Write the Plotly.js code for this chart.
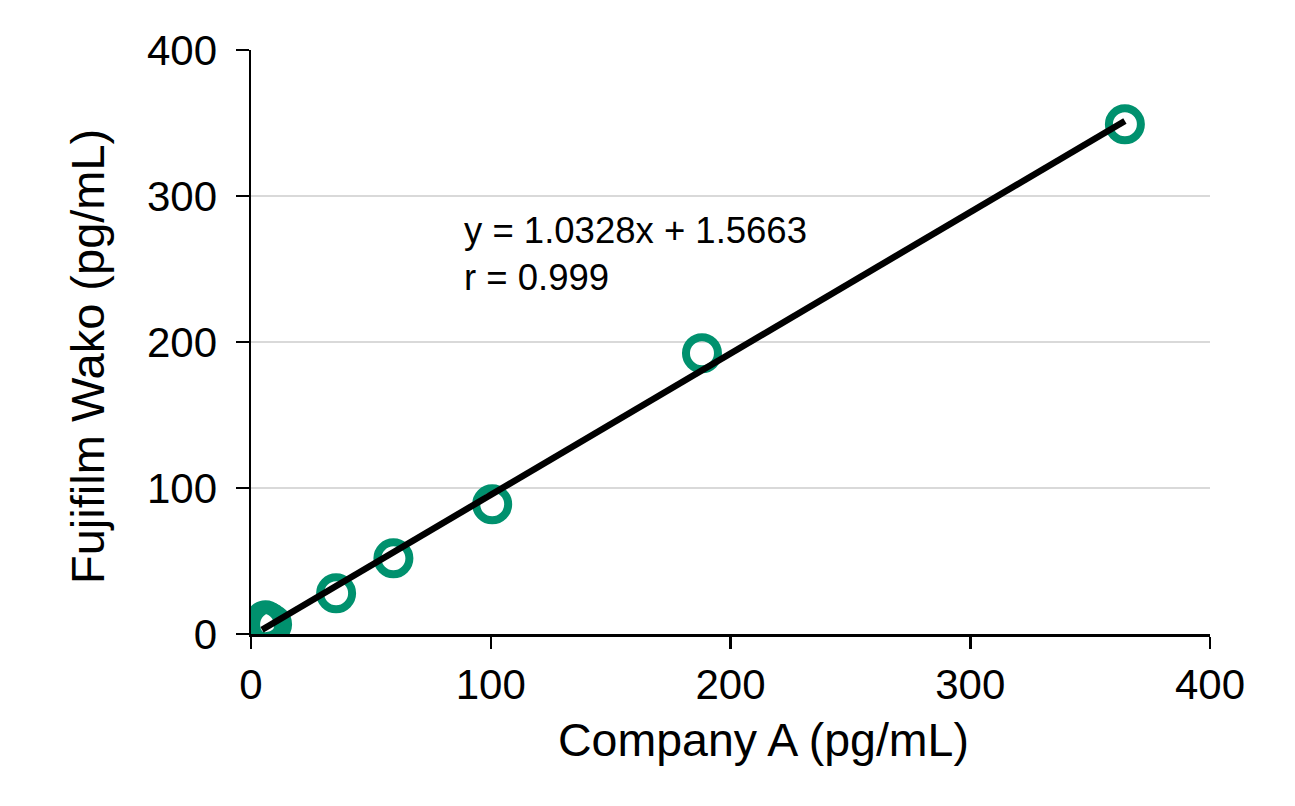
<!DOCTYPE html>
<html>
<head>
<meta charset="utf-8">
<script src="https://cdn.plot.ly/plotly-3.0.1.min.js"></script>
<style>html,body{margin:0;padding:0;background:#fff;}#chart{width:1295px;height:806px;}</style>
</head>
<body>
<div id="chart"></div>
<script>
// Data
const companyA = [4.6, 6.0, 7.5, 8.8, 35.5, 59.4, 100.6, 188.1, 364.5];
const fujifilmWako = [6.0, 9.5, 8.0, 6.5, 27.9, 51.8, 88.8, 192.3, 349.1];
const slope = 1.0328;
const intercept = 1.5663;
const rValue = 0.999;
const tickVals = [0, 100, 200, 300, 400];
const tickLabels = ['0', '100', '200', '300', '400'];
const xTitle = 'Company A (pg/mL)';
const yTitle = 'Fujifilm Wako (pg/mL)';

// Drawn trend line (as in the figure) spans the data range
const xMin = Math.min(...companyA);
const xMax = Math.max(...companyA);
const lineX = [xMin, xMax];
const lineY = lineX.map(x => (x - intercept) / slope);

const FONT = 'Liberation Sans, Arial, sans-serif';

const traces = [
  {
    x: companyA, y: fujifilmWako, type: 'scatter', mode: 'markers',
    marker: {symbol: 'circle-open', size: 32, color: '#00916E', line: {width: 8, color: '#00916E'}},
    hoverinfo: 'skip', showlegend: false
  },
  {
    x: lineX, y: lineY, type: 'scatter', mode: 'lines',
    line: {color: '#000000', width: 6.5},
    hoverinfo: 'skip', showlegend: false
  }
];

const L = 251, R = 1210, T = 50, B = 634;
const px = v => (v - L) / (R - L);
const py = v => (B - v) / (B - T);

const layout = {
  width: 1295, height: 806,
  margin: {l: L, r: 1295 - R, t: T, b: 806 - B},
  paper_bgcolor: '#ffffff', plot_bgcolor: '#ffffff',
  font: {family: FONT, color: '#000000'},
  showlegend: false,
  xaxis: {
    range: [0, 400], tickvals: tickVals, ticktext: tickLabels,
    showgrid: false, zeroline: false,
    showline: true, linecolor: '#000000', linewidth: 2.5,
    ticks: 'outside', ticklen: 12, tickwidth: 2.5, tickcolor: '#000000',
    tickfont: {size: 42, family: FONT, color: '#000000'},
    fixedrange: true
  },
  yaxis: {
    range: [0, 400], tickvals: tickVals, ticktext: tickLabels,
    showgrid: true, gridcolor: '#d9d9d9', gridwidth: 2,
    zeroline: false,
    showline: true, linecolor: '#000000', linewidth: 2.5,
    ticks: 'outside', ticklen: 13, tickwidth: 2.5, tickcolor: '#000000',
    tickfont: {size: 42, family: FONT, color: '#000000'},
    ticklabelstandoff: 10,
    fixedrange: true
  },
  annotations: [
    {
      xref: 'paper', yref: 'paper',
      x: px(462), y: py(254),
      xanchor: 'left', yanchor: 'middle', align: 'left',
      showarrow: false,
      text: 'y = ' + slope.toFixed(4) + 'x + ' + intercept.toFixed(4) + '<br>r = ' + rValue.toFixed(3),
      font: {size: 36.5, family: FONT, color: '#000000'}
    },
    {
      xref: 'paper', yref: 'paper',
      x: px(763), y: py(740),
      xanchor: 'center', yanchor: 'middle',
      showarrow: false, text: xTitle,
      font: {size: 46.5, family: FONT, color: '#000000'}
    },
    {
      xref: 'paper', yref: 'paper',
      x: px(88), y: py(357),
      xanchor: 'center', yanchor: 'middle', textangle: -90,
      showarrow: false, text: yTitle,
      font: {size: 47, family: FONT, color: '#000000'}
    }
  ]
};

Plotly.newPlot('chart', traces, layout, {displayModeBar: false, staticPlot: true});
</script>
</body>
</html>
